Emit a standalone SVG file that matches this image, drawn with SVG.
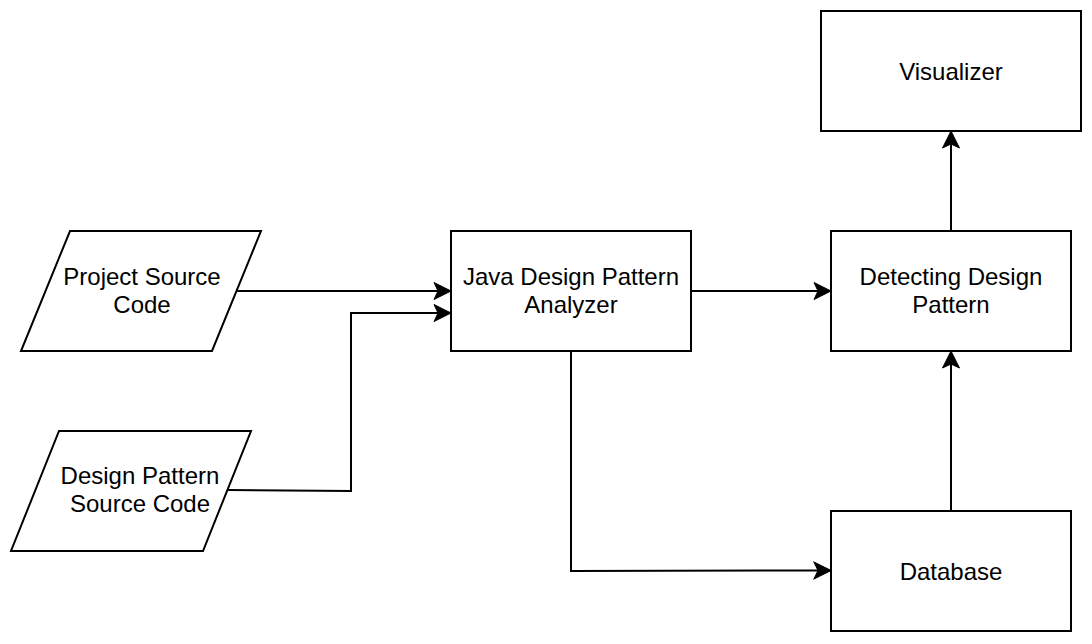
<svg xmlns="http://www.w3.org/2000/svg" width="1092" height="644" viewBox="0 0 1092 644">
<style>
.shape{fill:#fff;stroke:#000;stroke-width:2}
.edge{fill:none;stroke:#000;stroke-width:2}
text{font-family:"Liberation Sans",Arial,Helvetica,sans-serif;font-size:24px;fill:#000;text-anchor:middle}
</style>
<defs>
<marker id="arr" markerUnits="userSpaceOnUse" markerWidth="22" markerHeight="22" viewBox="-20 -11 22 22" refX="-12" refY="0" orient="auto">
<path d="M0,0 L-17,-8.5 L-13,0 L-17,8.5 Z" fill="#000" stroke="#000" stroke-width="1"/>
</marker>
</defs>
<rect width="1092" height="644" fill="#fff"/>
<g id="connectors">
<path class="edge" d="M237,291 L439,291" marker-end="url(#arr)"/>
<path class="edge" d="M228,490 L351,491 L351,313 L439,313" marker-end="url(#arr)"/>
<path class="edge" d="M691,291 L819,291" marker-end="url(#arr)"/>
<path class="edge" d="M571,351 L571,571 L819,570.5" marker-end="url(#arr)"/>
<path class="edge" d="M951,511 L951,363" marker-end="url(#arr)"/>
<path class="edge" d="M951,231 L951,143" marker-end="url(#arr)"/>
</g>
<g id="project-source">
<polygon class="shape" points="70,231 261,231 212,351 21,351"/>
<text x="142" y="285">Project Source</text>
<text x="142" y="313">Code</text>
</g>
<g id="design-pattern-source">
<polygon class="shape" points="59,431 251,431 203,551 11,551"/>
<text x="140" y="484">Design Pattern</text>
<text x="140" y="512">Source Code</text>
</g>
<g id="analyzer">
<rect class="shape" x="451" y="231" width="240" height="120"/>
<text x="571" y="285">Java Design Pattern</text>
<text x="571" y="313">Analyzer</text>
</g>
<g id="detecting">
<rect class="shape" x="831" y="231" width="240" height="120"/>
<text x="951" y="285">Detecting Design</text>
<text x="951" y="313">Pattern</text>
</g>
<g id="visualizer">
<rect class="shape" x="821" y="11" width="260" height="120"/>
<text x="951" y="80">Visualizer</text>
</g>
<g id="database">
<rect class="shape" x="831" y="511" width="240" height="120"/>
<text x="951" y="580">Database</text>
</g>
</svg>
